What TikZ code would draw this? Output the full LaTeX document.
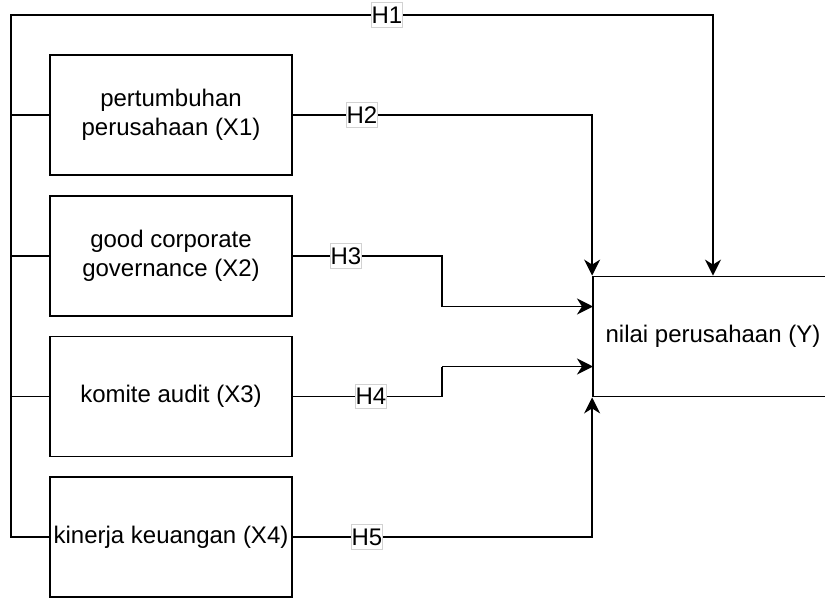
\documentclass[tikz,border=0pt]{standalone}
\usepackage{fontspec}
\setmainfont{Liberation Sans}
\usetikzlibrary{arrows.meta}

\begin{document}
\begin{tikzpicture}[
    x=1pt, y=-1pt,
    every node/.style={font=\fontsize{24}{28.8}\selectfont},
    var/.style={rectangle, draw, line width=1.8pt, minimum width=242pt, minimum height=120pt, align=center, inner sep=2pt},
    link/.style={line width=1.8pt},
    arr/.style={link, -{Stealth[length=16pt, width=16pt, inset=5pt]}},
    hyp/.style={fill=white, draw=gray!35, line width=0.6pt, inner xsep=0pt, inner ysep=4pt}
]
\useasboundingbox (0,0) rectangle (825,598);

% Variables
\node[var] (x1) at (171,115) {pertumbuhan\\perusahaan (X1)};
\node[var] (x2) at (171,256) {good corporate\\governance (X2)};
\node[var] (x3) at (171,396.5) {komite audit (X3)};
\node[var] (x4) at (171,537) {kinerja keuangan (X4)};
\node[var, minimum width=240pt] (y) at (713,336.5) {nilai perusahaan (Y)};

% Helper points
\coordinate (bustop) at (11,15);
\coordinate (bend3) at (442,306.5);
\coordinate (bend4) at (442,366.5);
\coordinate (in3) at (593,306.5);
\coordinate (in4) at (593,366.5);

% Left bus with H1
\draw[arr] (x4.west) -| (bustop) -| (y.north);
\foreach \i in {1,2,3} {
    \draw[link] (x\i.west) -- (x\i.west -| bustop);
}

% Hypotheses H2 - H5
\draw[arr] (x1.east) -| (y.north west);
\draw[link] (x2.east) -| (bend3);
\draw[arr] (bend3) -- (in3);
\draw[link] (x3.east) -| (bend4);
\draw[arr] (bend4) -- (in4);
\draw[arr] (x4.east) -| (y.south west);

% Labels
\node[hyp] (h1) at (387,15) {H1};
\node[hyp] (h2) at (362,115) {H2};
\node[hyp] (h3) at (346,256) {H3};
\node[hyp] (h4) at (371,396.5) {H4};
\node[hyp] (h5) at (367,537) {H5};

\end{tikzpicture}
\end{document}
